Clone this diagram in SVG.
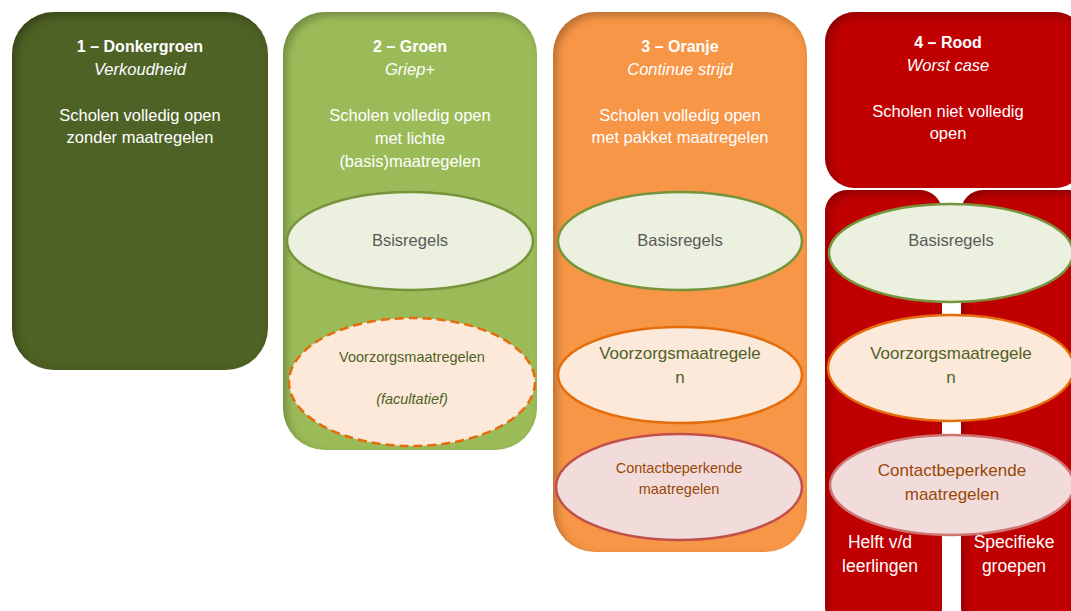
<svg xmlns="http://www.w3.org/2000/svg" width="1071" height="611" viewBox="0 0 1071 611">
<defs>
<filter id="inner" x="-5%" y="-5%" width="110%" height="110%">
<feComponentTransfer in="SourceAlpha"><feFuncA type="table" tableValues="1 0"/></feComponentTransfer>
<feGaussianBlur stdDeviation="4"/>
<feOffset dx="4" dy="4" result="off"/>
<feFlood flood-color="#000" flood-opacity="0.5"/>
<feComposite in2="off" operator="in"/>
<feComposite in2="SourceAlpha" operator="in" result="sh"/>
<feMerge><feMergeNode in="SourceGraphic"/><feMergeNode in="sh"/></feMerge>
</filter>
</defs>
<style>
text{font-family:"Liberation Sans",Arial,sans-serif;text-anchor:middle}
.h{font-size:16px;font-weight:bold;fill:#fff}
.s{font-size:16.5px;font-style:italic;fill:#fff}
.t{font-size:16.5px;fill:#fff}
.b{font-size:17.5px;fill:#fff}
.basis{fill:#ebf1de;stroke:#77933c;stroke-width:2.5}
.voor{fill:#fde9d9;stroke:#e46c0a;stroke-width:2.5}
.cont{fill:#f2dcdb;stroke:#c0504d;stroke-width:2.5}
.gr{fill:#595959;font-size:16.5px}
.vz{fill:#4f6228;font-size:17px}
.ct{fill:#984807;font-size:17px}
</style>
<g id="col1">
<rect x="12" y="12" width="256" height="358" rx="42" fill="#4f6228" filter="url(#inner)"/>
<text class="h" x="140" y="52">1 – Donkergroen</text>
<text class="s" x="140" y="75">Verkoudheid</text>
<text class="t" x="140" y="121">Scholen volledig open</text>
<text class="t" x="140" y="143">zonder maatregelen</text>
</g>
<g id="col2">
<rect x="283" y="12" width="254" height="438" rx="42" fill="#9bbb59" filter="url(#inner)"/>
<text class="h" x="410" y="52">2 – Groen</text>
<text class="s" x="410" y="75">Griep+</text>
<text class="t" x="410" y="121">Scholen volledig open</text>
<text class="t" x="410" y="144">met lichte</text>
<text class="t" x="410" y="167">(basis)maatregelen</text>
<g id="c2basis"><ellipse class="basis" cx="410" cy="241" rx="123" ry="49"/>
<text class="gr" x="410" y="246">Bsisregels</text></g>
<g id="c2voor"><ellipse class="voor" cx="412" cy="382" rx="123" ry="64" stroke-dasharray="9 5"/>
<text class="vz" x="412" y="362" style="font-size:14.5px">Voorzorgsmaatregelen</text>
<text class="vz" x="412" y="404" style="font-size:14.5px;font-style:italic">(facultatief)</text></g>
</g>
<g id="col3">
<rect x="553" y="12" width="254" height="540" rx="42" fill="#f79646" filter="url(#inner)"/>
<text class="h" x="680" y="52">3 – Oranje</text>
<text class="s" x="680" y="75">Continue strijd</text>
<text class="t" x="680" y="121">Scholen volledig open</text>
<text class="t" x="680" y="143">met pakket maatregelen</text>
<g id="c3basis"><ellipse class="basis" cx="680" cy="241" rx="122" ry="49"/>
<text class="gr" x="680" y="246">Basisregels</text></g>
<g id="c3voor"><ellipse class="voor" cx="680" cy="375" rx="122" ry="48"/>
<text class="vz" x="680" y="359">Voorzorgsmaatregele</text>
<text class="vz" x="680" y="383">n</text></g>
<g id="c3cont"><ellipse class="cont" cx="679" cy="487" rx="123" ry="53"/>
<text class="ct" x="679" y="473" style="font-size:14.5px">Contactbeperkende</text>
<text class="ct" x="679" y="494" style="font-size:14.5px">maatregelen</text></g>
</g>
<g id="col4">
<rect x="825" y="12" width="260" height="176" rx="30" fill="#c00000" filter="url(#inner)"/>
<text class="h" x="948" y="48">4 – Rood</text>
<text class="s" x="948" y="71">Worst case</text>
<text class="t" x="948" y="117">Scholen niet volledig</text>
<text class="t" x="948" y="139">open</text>
<g id="c4left"><rect x="825" y="190" width="117" height="440" rx="22" fill="#c00000" filter="url(#inner)"/>
<text class="b" x="880" y="548">Helft v/d</text>
<text class="b" x="880" y="572">leerlingen</text></g>
<g id="c4right"><rect x="961" y="190" width="130" height="440" rx="22" fill="#c00000" filter="url(#inner)"/>
<text class="b" x="1014" y="548">Specifieke</text>
<text class="b" x="1014" y="572">groepen</text></g>
<g id="c4basis"><ellipse class="basis" cx="951" cy="253" rx="122" ry="49"/>
<text class="gr" x="951" y="246">Basisregels</text></g>
<g id="c4voor"><ellipse class="voor" cx="951" cy="368" rx="123" ry="53"/>
<text class="vz" x="951" y="359">Voorzorgsmaatregele</text>
<text class="vz" x="951" y="383">n</text></g>
<g id="c4cont"><ellipse class="cont" cx="952" cy="485" rx="122" ry="50" style="stroke:#cd7370"/>
<text class="ct" x="952" y="476">Contactbeperkende</text>
<text class="ct" x="952" y="500">maatregelen</text></g>
</g>
<g id="connectors"/>
</svg>
